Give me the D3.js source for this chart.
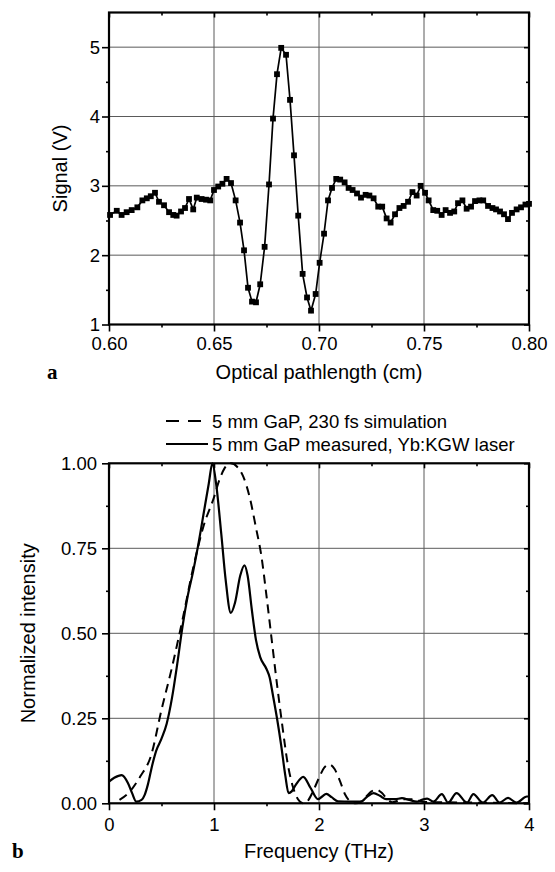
<!DOCTYPE html>
<html>
<head>
<meta charset="utf-8">
<script src="https://cdn.jsdelivr.net/npm/d3@7"></script>
<style>
  body { margin: 0; background: #fff; }
  text { font-family: "Liberation Sans", Arial, sans-serif; fill: #000; }
  .grid line { stroke: #5a5a5a; stroke-width: 1; }
  .ax path { display: none; }
  .ax line { stroke: #000; stroke-width: 1.6; }
</style>
</head>
<body>
<script>
// panel a: optical pathlength (cm) vs signal (V)
let pathX = [0.6005, 0.6037, 0.6060, 0.6084, 0.6108, 0.6135, 0.6159, 0.6180, 0.6199, 0.6219,
  0.6238, 0.6262, 0.6286, 0.6306, 0.6322, 0.6343, 0.6362, 0.6381, 0.6401, 0.6418,
  0.6441, 0.6462, 0.6482, 0.6500, 0.6520, 0.6540, 0.6560, 0.6581, 0.6603, 0.6624,
  0.6643, 0.6662, 0.6681, 0.6700, 0.6720, 0.6741, 0.6762, 0.6781, 0.6800, 0.6820,
  0.6843, 0.6862, 0.6881, 0.6901, 0.6922, 0.6943, 0.6962, 0.6984, 0.7003, 0.7024,
  0.7043, 0.7062, 0.7082, 0.7101, 0.7122, 0.7141, 0.7160, 0.7181, 0.7200, 0.7222,
  0.7240, 0.7260, 0.7282, 0.7301, 0.7322, 0.7341, 0.7362, 0.7383, 0.7403, 0.7424,
  0.7445, 0.7465, 0.7484, 0.7505, 0.7522, 0.7544, 0.7563, 0.7584, 0.7603, 0.7624,
  0.7644, 0.7662, 0.7683, 0.7703, 0.7724, 0.7743, 0.7764, 0.7782, 0.7805, 0.7826,
  0.7843, 0.7862, 0.7881, 0.7900, 0.7919, 0.7941, 0.7962, 0.7983, 0.8000]
let signalV = [2.58, 2.64, 2.58, 2.62, 2.65, 2.69, 2.79, 2.82, 2.85, 2.90,
  2.77, 2.72, 2.62, 2.58, 2.57, 2.63, 2.68, 2.81, 2.66, 2.83,
  2.81, 2.80, 2.79, 2.94, 2.99, 3.03, 3.10, 3.04, 2.79, 2.47,
  2.07, 1.53, 1.33, 1.32, 1.58, 2.12, 3.02, 3.97, 4.61, 4.99,
  4.89, 4.24, 3.44, 2.57, 1.73, 1.39, 1.20, 1.44, 1.89, 2.31,
  2.79, 2.97, 3.10, 3.09, 3.05, 2.97, 2.94, 2.89, 2.83, 2.87,
  2.86, 2.82, 2.70, 2.70, 2.53, 2.47, 2.59, 2.68, 2.71, 2.77,
  2.91, 2.86, 3.00, 2.90, 2.79, 2.65, 2.64, 2.58, 2.65, 2.61,
  2.63, 2.75, 2.79, 2.67, 2.70, 2.78, 2.79, 2.79, 2.71, 2.68,
  2.66, 2.63, 2.59, 2.52, 2.61, 2.66, 2.69, 2.73, 2.74]

// panel b: simulated and measured spectra
let simFreq = [0.10, 0.20, 0.30, 0.40, 0.50, 0.60, 0.70, 0.80, 0.90, 1.00,
  1.05, 1.10, 1.16, 1.22, 1.28, 1.34, 1.40, 1.45, 1.50, 1.55,
  1.60, 1.65, 1.70, 1.75, 1.80, 1.85, 1.90, 1.95, 2.00, 2.05,
  2.10, 2.15, 2.20, 2.25, 2.30, 2.35, 2.40, 2.45, 2.50, 2.55,
  2.60, 2.65, 2.70, 2.80, 2.90, 3.00, 3.20, 3.50, 4.00]
let simInt = [0.010, 0.035, 0.080, 0.140, 0.275, 0.400, 0.540, 0.690, 0.815, 0.900,
  0.950, 0.985, 1.000, 0.990, 0.960, 0.900, 0.810, 0.730, 0.610, 0.480,
  0.350, 0.230, 0.120, 0.050, 0.012, 0.000, 0.010, 0.040, 0.075, 0.105,
  0.114, 0.100, 0.065, 0.025, 0.005, 0.000, 0.005, 0.020, 0.035, 0.040,
  0.030, 0.012, 0.003, 0.012, 0.012, 0.004, 0.003, 0.002, 0.000]
let measFreq = [0.00, 0.05, 0.12, 0.18, 0.22, 0.26, 0.31, 0.34, 0.37, 0.41,
  0.45, 0.50, 0.55, 0.60, 0.65, 0.70, 0.75, 0.80, 0.85, 0.90,
  0.95, 0.985, 1.02, 1.07, 1.11, 1.16, 1.20, 1.25, 1.29, 1.32,
  1.36, 1.40, 1.44, 1.50, 1.53, 1.56, 1.60, 1.64, 1.68, 1.71,
  1.74, 1.78, 1.85, 1.92, 1.99, 2.03, 2.07, 2.12, 2.18, 2.30,
  2.40, 2.46, 2.52, 2.58, 2.64, 2.72, 2.79, 2.86, 2.93, 2.98,
  3.03, 3.09, 3.17, 3.23, 3.31, 3.41, 3.47, 3.56, 3.65, 3.72,
  3.80, 3.88, 3.98, 4.00]
let measInt = [0.064, 0.075, 0.083, 0.060, 0.030, 0.005, 0.010, 0.025, 0.055, 0.110,
  0.155, 0.190, 0.235, 0.310, 0.410, 0.520, 0.610, 0.680, 0.760, 0.850,
  0.940, 1.000, 0.940, 0.790, 0.660, 0.560, 0.590, 0.670, 0.700, 0.670,
  0.570, 0.480, 0.430, 0.395, 0.370, 0.320, 0.250, 0.170, 0.080, 0.030,
  0.035, 0.055, 0.078, 0.045, 0.012, 0.020, 0.028, 0.018, 0.006, 0.005,
  0.005, 0.020, 0.030, 0.022, 0.012, 0.012, 0.015, 0.010, 0.005, 0.010,
  0.014, 0.005, 0.027, 0.002, 0.030, 0.002, 0.027, 0.002, 0.024, 0.002,
  0.016, 0.002, 0.020, 0.020]

let legendLabels = ["5 mm GaP, 230 fs simulation", "5 mm GaP measured, Yb:KGW laser"]

let svg = d3.select("body").append("svg")
    .attr("width", 555)
    .attr("height", 872)

let drawPanel = (x, y, o) => {
  let [xl, xr] = x.range(), [yb, yt] = y.range()

  let grid = svg.append("g").attr("class", "grid")
  grid.selectAll(".gx").data(o.xGrid).join("line")
      .attr("x1", d => x(d)).attr("x2", d => x(d))
      .attr("y1", yb).attr("y2", yt)
  grid.selectAll(".gy").data(o.yGrid).join("line")
      .attr("x1", xl).attr("x2", xr)
      .attr("y1", d => y(d)).attr("y2", d => y(d))

  let add = (axis, tx, ty) => svg.append("g")
      .attr("class", "ax")
      .attr("transform", `translate(${tx},${ty})`)
      .call(axis)

  // bottom / left, outward with labels
  add(d3.axisBottom(x).tickValues(o.xMajor).tickSize(7).tickPadding(o.xPad).tickFormat(o.xFmt), 0, yb)
      .selectAll("text").attr("font-size", 18.5).attr("font-family", "Liberation Sans, Arial, sans-serif")
  add(d3.axisBottom(x).tickValues(o.xMinor).tickSize(3).tickFormat(""), 0, yb)
  add(d3.axisLeft(y).tickValues(o.yMajor).tickSize(7).tickPadding(o.yPad).tickFormat(o.yFmt), xl, 0)
      .selectAll("text").attr("font-size", 18.5).attr("font-family", "Liberation Sans, Arial, sans-serif")
  add(d3.axisLeft(y).tickValues(o.yMinor).tickSize(3).tickFormat(""), xl, 0)

  // mirror ticks, pointing in
  add(d3.axisTop(x).tickValues(o.xMajor).tickSize(-5).tickFormat(""), 0, yt)
  add(d3.axisTop(x).tickValues(o.xMinor).tickSize(-3).tickFormat(""), 0, yt)
  add(d3.axisRight(y).tickValues(o.yMajor).tickSize(-5).tickFormat(""), xr, 0)
  add(d3.axisRight(y).tickValues(o.yMinor).tickSize(-3).tickFormat(""), xr, 0)

  svg.append("rect")
      .attr("x", xl).attr("y", yt)
      .attr("width", xr - xl).attr("height", yb - yt)
      .attr("fill", "none").attr("stroke", "#000").attr("stroke-width", 2.2)

  svg.append("text")
      .attr("x", (xl + xr) / 2).attr("y", o.xTitleY)
      .attr("text-anchor", "middle").attr("font-size", 20)
      .text(o.xTitle)
  svg.append("text")
      .attr("transform", `translate(${o.yTitleX},${(yb + yt) / 2}) rotate(-90)`)
      .attr("text-anchor", "middle").attr("font-size", 20)
      .text(o.yTitle)
  svg.append("text")
      .attr("x", o.tagX).attr("y", o.xTitleY)
      .style("font-family", "'Liberation Serif', 'Times New Roman', serif")
      .attr("font-weight", "bold").attr("font-size", 21)
      .text(o.tag)
}

// ---- panel a
let xA = d3.scaleLinear().domain([0.6, 0.8]).range([109, 529])
let yA = d3.scaleLinear().domain([1, 5.5]).range([324.5, 12.5])

drawPanel(xA, yA, {
  xGrid: [0.65, 0.70, 0.75], yGrid: [2, 3, 4, 5],
  xMajor: [0.60, 0.65, 0.70, 0.75, 0.80], xMinor: [0.625, 0.675, 0.725, 0.775],
  yMajor: [1, 2, 3, 4, 5], yMinor: [1.5, 2.5, 3.5, 4.5],
  xFmt: d3.format(".2f"), yFmt: d3.format("d"),
  xPad: 5, yPad: 2,
  xTitle: "Optical pathlength (cm)", xTitleY: 379,
  yTitle: "Signal (V)", yTitleX: 67, tag: "a", tagX: 47
})

let ptsA = pathX.map((d, i) => [d, signalV[i]])
svg.append("path")
    .datum(ptsA)
    .attr("fill", "none").attr("stroke", "#000").attr("stroke-width", 1.7)
    .attr("d", d3.line().x(d => xA(d[0])).y(d => yA(d[1])))
svg.append("g").selectAll("rect").data(ptsA).join("rect")
    .attr("x", d => xA(d[0]) - 2.9).attr("y", d => yA(d[1]) - 2.9)
    .attr("width", 5.8).attr("height", 5.8)
    .attr("fill", "#000")

// ---- panel b
let xB = d3.scaleLinear().domain([0, 4]).range([109, 529])
let yB = d3.scaleLinear().domain([0, 1]).range([803.3, 463.3])

drawPanel(xB, yB, {
  xGrid: [1, 2, 3], yGrid: [0.25, 0.5, 0.75],
  xMajor: [0, 1, 2, 3, 4], xMinor: [0.5, 1.5, 2.5, 3.5],
  yMajor: [0, 0.25, 0.5, 0.75, 1], yMinor: [0.125, 0.375, 0.625, 0.875],
  xFmt: d3.format("d"), yFmt: d3.format(".2f"),
  xPad: 8, yPad: 5,
  xTitle: "Frequency (THz)", xTitleY: 858,
  yTitle: "Normalized intensity", yTitleX: 35, tag: "b", tagX: 12
})

let lineB = d3.line().x(d => xB(d[0])).y(d => yB(d[1])).curve(d3.curveMonotoneX)
svg.append("path")
    .datum(simFreq.map((d, i) => [d, simInt[i]]))
    .attr("fill", "none").attr("stroke", "#000").attr("stroke-width", 2)
    .attr("stroke-dasharray", "9,6")
    .attr("d", lineB)
svg.append("path")
    .datum(measFreq.map((d, i) => [d, measInt[i]]))
    .attr("fill", "none").attr("stroke", "#000").attr("stroke-width", 2.2)
    .attr("d", lineB)

// legend
let legend = svg.append("g")
legend.selectAll("line").data(legendLabels).join("line")
    .attr("x1", 166).attr("x2", 208)
    .attr("y1", (d, i) => 421 + i * 23).attr("y2", (d, i) => 421 + i * 23)
    .attr("stroke", "#000").attr("stroke-width", 2.2)
    .attr("stroke-dasharray", (d, i) => i == 0 ? "13,9" : null)
legend.selectAll("text").data(legendLabels).join("text")
    .attr("x", 212).attr("y", (d, i) => 427.5 + i * 23)
    .attr("font-size", 18.5)
    .text(d => d)
</script>
</body>
</html>
